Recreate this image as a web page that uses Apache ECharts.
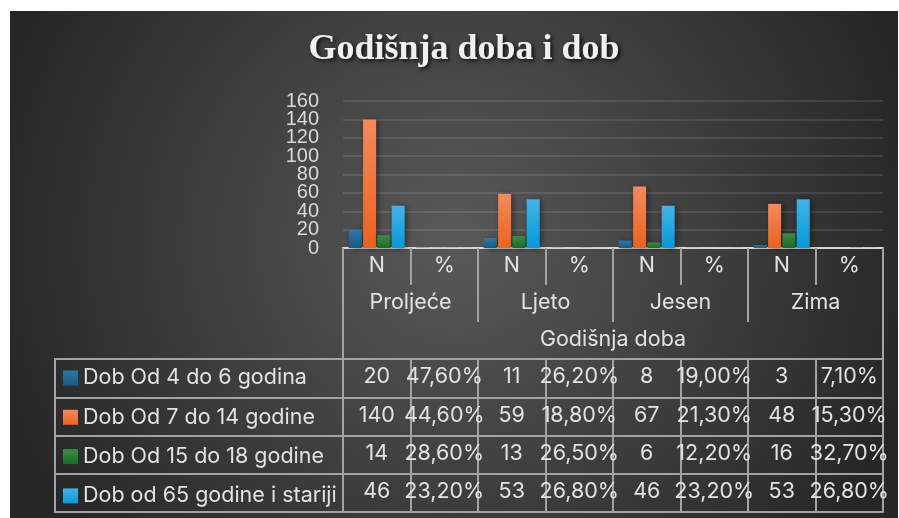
<!DOCTYPE html>
<html>
<head>
<meta charset="utf-8">
<script src="https://cdn.jsdelivr.net/npm/echarts@6/dist/echarts.min.js"></script>
<style>
  html, body { margin: 0; padding: 0; background: #ffffff; }
  #chart { width: 899px; height: 518px; }
</style>
</head>
<body>
<div id="chart"></div>
<script>
// podaci
const seasons = ['Proljeće', 'Ljeto', 'Jesen', 'Zima']
const subCols = ['N', '%']
const groupTitle = 'Godišnja doba'
const ageGroups = ['Dob Od 4 do 6 godina', 'Dob Od 7 do 14 godine', 'Dob Od 15 do 18 godine', 'Dob od 65 godine i stariji']
const counts4to6 = [20, 11, 8, 3]
const pct4to6 = [47.6, 26.2, 19.0, 7.1]
const counts7to14 = [140, 59, 67, 48]
const pct7to14 = [44.6, 18.8, 21.3, 15.3]
const counts15to18 = [14, 13, 6, 16]
const pct15to18 = [28.6, 26.5, 12.2, 32.7]
const counts65plus = [46, 53, 46, 53]
const pct65plus = [23.2, 26.8, 23.2, 26.8]
const yTicks = [0, 20, 40, 60, 80, 100, 120, 140, 160]

const counts = [counts4to6, counts7to14, counts15to18, counts65plus]
const pcts = [pct4to6, pct7to14, pct15to18, pct65plus]
const colors = [
  ['#2f78a5', '#185a84'],
  ['#f28a5c', '#ea6320'],
  ['#3f8c48', '#186c24'],
  ['#45b2e8', '#069ad8']
]

const headCats = []
seasons.forEach(() => subCols.forEach(s => headCats.push(s)))

function fmtPct(v) {
  return v.toFixed(2).replace('.', ',') + '%'
}

// N i % naizmjence, kao u Excel tablici
function rowValues(i) {
  const out = []
  seasons.forEach((s, j) => { out.push(counts[i][j]); out.push(pcts[i][j] / 100) })
  return out
}
function rowLabels(i) {
  const out = []
  seasons.forEach((s, j) => { out.push(String(counts[i][j])); out.push(fmtPct(pcts[i][j])) })
  return out
}

const gridLeft = 343, gridRight = 16, gridTop = 101, gridBottom = 270
const axisY = 518 - gridBottom
const rowOffsets = [111, 150, 188, 226]
const bottomOffset = 264
const lineCol = '#a3a3a3'
const textCol = '#e2e2e2'
const tableFont = 'Inter'
const tableSize = 21.5
const yMin = yTicks[0], yMax = yTicks[yTicks.length - 1]
const yLabelStyle = { color: '#d9d9d9', fontSize: 20, fontFamily: 'Liberation Sans', margin: 24 }

const chart = echarts.init(document.getElementById('chart'), null, { renderer: 'canvas' })

const xAxes = [
  {
    type: 'category', data: headCats, position: 'bottom',
    axisLine: { show: true, lineStyle: { color: '#d9d9d9', width: 2 } },
    axisTick: { show: true, interval: 0, length: 37, lineStyle: { color: lineCol, width: 2 } },
    axisLabel: { interval: 0, margin: 7, color: textCol, fontSize: tableSize, fontFamily: tableFont }
  },
  {
    type: 'category', data: seasons, position: 'bottom', offset: 0,
    axisLine: { show: false },
    axisTick: { show: true, interval: 0, length: 74, lineStyle: { color: lineCol, width: 2 } },
    axisLabel: { interval: 0, margin: 44, color: textCol, fontSize: tableSize, fontFamily: tableFont }
  },
  {
    type: 'category', data: [groupTitle], position: 'bottom', offset: 0,
    axisLine: { show: false },
    axisTick: { show: true, interval: 0, length: 111, lineStyle: { color: lineCol, width: 2 } },
    axisLabel: { interval: 0, margin: 81, color: textCol, fontSize: tableSize, fontFamily: tableFont }
  }
]
ageGroups.forEach((g, i) => {
  const next = i < 3 ? rowOffsets[i + 1] : bottomOffset
  xAxes.push({
    type: 'category', data: rowLabels(i), position: 'bottom', offset: rowOffsets[i],
    axisLine: { show: true, lineStyle: { color: lineCol, width: 2 } },
    axisTick: { show: true, interval: 0, length: next - rowOffsets[i], lineStyle: { color: lineCol, width: 2 } },
    axisLabel: { interval: 0, margin: 7, color: textCol, fontSize: tableSize, fontFamily: tableFont }
  })
})
xAxes.push({
  type: 'category', data: headCats.map(() => ''), position: 'bottom', offset: bottomOffset,
  axisLine: { show: true, lineStyle: { color: lineCol, width: 2 } },
  axisTick: { show: false }, axisLabel: { show: false }
})

// lijevi stupac tablice (legenda)
const tableGraphics = [{
  type: 'rect', z: 5,
  shape: { x: 55, y: axisY + rowOffsets[0], width: gridLeft - 55, height: bottomOffset - rowOffsets[0] },
  style: { fill: 'none', stroke: lineCol, lineWidth: 2 }
}]
rowOffsets.slice(1).forEach(o => {
  tableGraphics.push({
    type: 'line', z: 5,
    shape: { x1: 55, y1: axisY + o, x2: gridLeft, y2: axisY + o },
    style: { stroke: lineCol, lineWidth: 2 }
  })
})

chart.setOption({
  animation: false,
  title: {
    text: 'Godišnja doba i dob',
    left: 459, top: 27, textAlign: 'center',
    textStyle: {
      fontFamily: 'Liberation Serif', fontWeight: 'bold', fontSize: 36, color: '#f0f0f0',
      textShadowColor: 'rgba(0,0,0,0.8)', textShadowBlur: 4, textShadowOffsetX: 2, textShadowOffsetY: 2
    }
  },
  legend: {
    data: ageGroups, orient: 'vertical', left: 63, top: 367, padding: 0,
    itemWidth: 15, itemHeight: 15, itemGap: 17.3, icon: 'rect', selectedMode: false,
    textStyle: { color: textCol, fontSize: tableSize, fontFamily: tableFont, lineHeight: 20 }
  },
  grid: { left: gridLeft, right: gridRight, top: gridTop, bottom: gridBottom, outerBoundsMode: 'none' },
  graphic: [
    {
      type: 'rect', z: -10, silent: true,
      shape: { x: 10, y: 11, width: 888, height: 507 },
      style: {
        fill: {
          type: 'radial', x: 0.5, y: 0.45, r: 0.95,
          colorStops: [{ offset: 0, color: '#595959' }, { offset: 1, color: '#262626' }]
        }
      }
    }
  ].concat(tableGraphics),
  xAxis: xAxes,
  yAxis: [
    {
      // unutarnje oznake 20..140 + mreža
      type: 'value', min: yMin, max: yMax, interval: yTicks[1] - yTicks[0], position: 'left',
      axisLine: { show: false }, axisTick: { show: false },
      axisLabel: Object.assign({ showMinLabel: false, showMaxLabel: false }, yLabelStyle),
      splitLine: { lineStyle: { color: 'rgba(255,255,255,0.1)', width: 2 } }
    },
    {
      // krajnje oznake 0 i 160
      type: 'value', min: yMin, max: yMax, interval: yMax - yMin, position: 'left', offset: 0,
      axisLine: { show: false }, axisTick: { show: false },
      axisLabel: Object.assign({ showMinLabel: true, showMaxLabel: true }, yLabelStyle),
      splitLine: { show: false }
    }
  ],
  series: ageGroups.map((g, i) => ({
    name: g, type: 'bar', xAxisIndex: 0, yAxisIndex: 0, barWidth: 13, barGap: '10%',
    data: rowValues(i),
    itemStyle: {
      color: new echarts.graphic.LinearGradient(0, 0, 0, 1, [
        { offset: 0, color: colors[i][0] }, { offset: 1, color: colors[i][1] }
      ]),
      shadowColor: 'rgba(0,0,0,0.45)', shadowBlur: 6, shadowOffsetX: 2, shadowOffsetY: 1
    }
  }))
})

window.onresize = function () {
  chart.resize()
}
</script>
</body>
</html>
